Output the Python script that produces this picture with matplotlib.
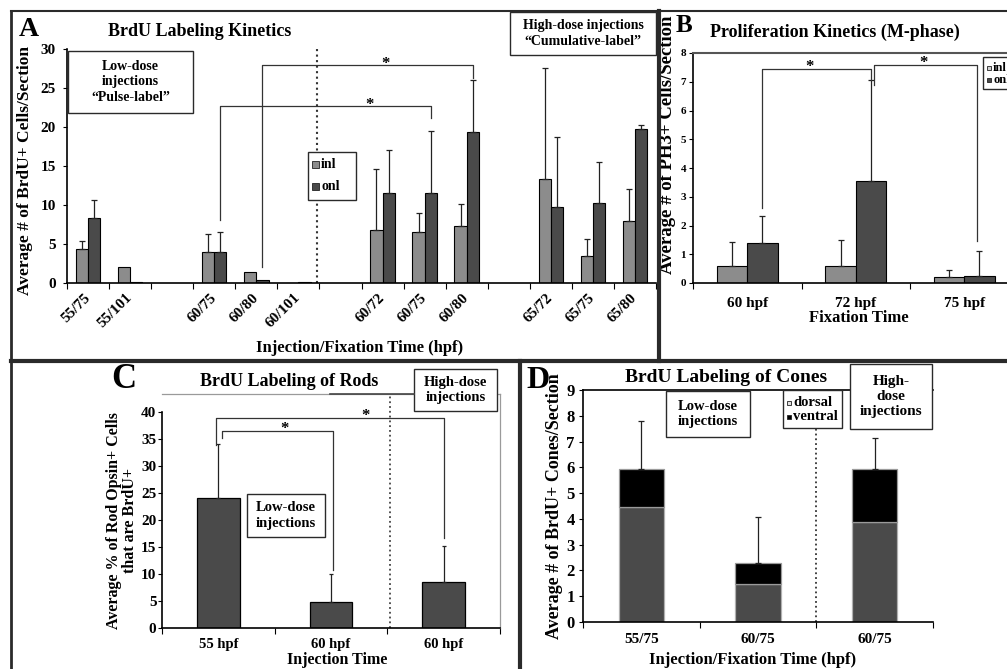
import numpy as np
import matplotlib
matplotlib.use("Agg")
import matplotlib.pyplot as plt
from matplotlib.patches import Rectangle

W, H = 1007, 669

# panel A: BrdU labeling kinetics (blank slots separate the groups)
a_labels = ['55/75', '55/101', '', '60/75', '60/80', '60/101', '',
            '60/72', '60/75', '60/80', '', '65/72', '65/75', '65/80']
a_inl = [4.3, 2.0, None, 4.0, 1.4, 0.0, None, 6.8, 6.5, 7.3, None, 13.3, 3.4, 8.0]
a_inl_err = [1.1, None, None, 2.3, None, None, None, 7.8, 2.5, 2.8, None, 14.3, 2.3, 4.1]
a_onl = [8.3, 0.15, None, 4.0, 0.4, 0.15, None, 11.5, 11.6, 19.3, None, 9.7, 10.3, 19.7]
a_onl_err = [2.3, None, None, 2.5, None, None, None, 5.6, 7.9, 6.7, None, 9.0, 5.2, 0.6]

# panel B: PH3+ cells
b_labels = ['60 hpf', '72 hpf', '75 hpf']
b_inl = [0.6, 0.6, 0.2]
b_inl_err = [0.82, 0.9, 0.25]
b_onl = [1.4, 3.55, 0.23]
b_onl_err = [0.93, 3.52, 0.9]

# panel C: rods
c_labels = ['55 hpf', '60 hpf', '60 hpf']
c_rods = [24.0, 4.8, 8.5]
c_rods_err = [10.1, 5.1, 6.7]

# panel D: cones
d_labels = ['55/75', '60/75', '60/75']
d_dorsal = [4.48, 1.47, 3.87]
d_ventral = [1.45, 0.82, 2.06]
d_err = [1.87, 1.8, 1.2]

# significance brackets: (x left, y left, x right, y right, y top, x star)
a_brackets = [(4.645, 2.1, 9.645, 26.3, 27.9, 7.56),
              (3.645, 8.1, 8.645, 21.1, 22.7, 7.18)]
b_brackets = [(0.64, 2.6, 1.64, 7.05, 7.45, 1.07),
              (1.67, 6.9, 2.62, 1.45, 7.6, 2.12)]
c_brackets = [(0.48, 33.9, 2.5, 16.7, 38.9, 1.81),
              (0.53, 35.2, 1.52, 10.7, 36.5, 1.09)]

INL = '#8c8c8c'
ONL = '#4a4a4a'

plt.rcParams['font.family'] = ['Liberation Serif', 'DejaVu Serif']
plt.rcParams['font.weight'] = 'bold'
plt.rcParams['axes.labelweight'] = 'bold'
plt.rcParams['axes.linewidth'] = 1.2

fig = plt.figure(figsize=(W / 100, H / 100), dpi=100)


def px_axes(x0, y0, x1, y1):
    return fig.add_axes([x0 / W, 1 - y1 / H, (x1 - x0) / W, (y1 - y0) / H])


def arr(v):
    return np.array([np.nan if x is None else x for x in v], float)


def upper_err(ax, x, y, e, cap=2.5):
    x, y, e = np.asarray(x, float), arr(y), arr(e)
    ok = ~np.isnan(e)
    ax.errorbar(x[ok], y[ok], yerr=[np.zeros(ok.sum()), e[ok]], fmt='none',
                ecolor='#222222', elinewidth=0.9, capsize=cap, capthick=0.9)


def bracket(ax, b, size=12):
    xl, yl, xr, yr, yt, xs = b
    ax.plot([xl, xl, xr, xr], [yl, yt, yt, yr], color='#333333', lw=0.9)
    ax.annotate('*', (xs, yt), xytext=(0, 1), textcoords='offset points',
                ha='center', va='center', fontsize=size)


def cat_axis(ax, labels, size, pad, **kw):
    n = len(labels)
    ax.set_xlim(0, n)
    ax.set_xticks(np.arange(n + 1))
    ax.set_xticklabels([])
    ax.set_xticks(np.arange(n) + 0.5, minor=True)
    ax.set_xticklabels(labels, minor=True, fontsize=size, **kw)
    ax.tick_params(axis='x', which='minor', length=0, pad=pad)
    ax.tick_params(axis='x', which='major', length=4, direction='out')
    ax.tick_params(axis='y', length=3, direction='out')


# ---- A
ax = px_axes(67, 49, 656, 283)
xa = np.arange(len(a_labels)) + 0.5
wa = 0.29
ax.bar(xa - wa / 2, arr(a_inl), wa, color=INL, edgecolor='black', lw=0.8)
ax.bar(xa + wa / 2, arr(a_onl), wa, color=ONL, edgecolor='black', lw=0.8)
upper_err(ax, xa - wa / 2, a_inl, a_inl_err)
upper_err(ax, xa + wa / 2, a_onl, a_onl_err)
ax.set_ylim(0, 30)
ax.set_yticks(range(0, 31, 5))
cat_axis(ax, a_labels, 11, 9, rotation=45, ha='right', va='center',
         rotation_mode='anchor')
ax.tick_params(axis='y', labelsize=11, pad=5)
ax.axvline(5.95, color='#333333', ls=':', lw=1.5)
for b in a_brackets:
    bracket(ax, b)
for s in ['top', 'right']:
    ax.spines[s].set_visible(False)
ax.set_ylabel('Average # of BrdU+ Cells/Section', fontsize=12.5)
ax.yaxis.set_label_coords(-0.057, 0.48)

# ---- B
bx = px_axes(693, 53, 1018.5, 283)
xb = np.arange(len(b_labels)) + 0.5
wb = 0.28
bx.bar(xb - wb / 2, b_inl, wb, color=INL, edgecolor='black', lw=0.8)
bx.bar(xb + wb / 2, b_onl, wb, color=ONL, edgecolor='black', lw=0.8)
upper_err(bx, xb - wb / 2, b_inl, b_inl_err)
upper_err(bx, xb + wb / 2, b_onl, b_onl_err)
bx.set_ylim(0, 8)
bx.set_yticks(range(0, 9))
cat_axis(bx, b_labels, 11, 10)
bx.tick_params(axis='y', labelsize=8, pad=2)
for b in b_brackets:
    bracket(bx, b)
bx.spines['right'].set_visible(False)
bx.spines['top'].set_color('#555555')
bx.spines['top'].set_linewidth(1.5)
bx.set_ylabel('Average # of PH3+ Cells/Section', fontsize=13.5)
bx.yaxis.set_label_coords(-0.052, 0.6)

# ---- C
cx = px_axes(162, 394, 500, 628)
xc = np.arange(len(c_labels)) + 0.5
cx.bar(xc, c_rods, 0.38, color=ONL, edgecolor='black', lw=0.9)
upper_err(cx, xc, c_rods, c_rods_err, cap=1.5)
cx.set_ylim(0, 43.3)
cx.set_yticks(range(0, 41, 5))
cat_axis(cx, c_labels, 10.5, 7)
cx.tick_params(axis='y', labelsize=11, pad=1)
cx.spines['left'].set_bounds(0, 40)
for s in ['top', 'right']:
    cx.spines[s].set_color('#9a9a9a')
    cx.spines[s].set_linewidth(0.9)
cx.axvline(2.02, color='#444444', ls=':', lw=1.3)
for b in c_brackets:
    bracket(cx, b)
cx.set_ylabel('Average % of Rod Opsin+ Cells\nthat are BrdU+', fontsize=11.5, linespacing=1.0)
cx.yaxis.set_label_coords(-0.07, 0.46)

# ---- D
dx = px_axes(583, 390, 933, 622)
xd = np.arange(len(d_labels)) + 0.5
dx.bar(xd, d_dorsal, 0.39, color=ONL, edgecolor='#b0b0b0', lw=0.9)
dx.bar(xd, d_ventral, 0.39, bottom=d_dorsal, color='black', edgecolor='#9a9a9a', lw=0.9)
upper_err(dx, xd, np.add(d_dorsal, d_ventral), d_err, cap=2)
dx.set_ylim(0, 9)
dx.set_yticks(range(0, 10))
cat_axis(dx, d_labels, 11, 8)
dx.tick_params(axis='y', labelsize=12, pad=3)
dx.spines['right'].set_visible(False)
dx.axvline(2.0, color='#333333', ls=':', lw=1.3)
dx.set_ylabel('Average # of BrdU+ Cones/Section', fontsize=13)
dx.yaxis.set_label_coords(-0.056, 0.5)

# ---- overlay in pixel coordinates: borders, titles, boxes, legends
ov = fig.add_axes([0, 0, 1, 1], zorder=10)
ov.set_xlim(0, W)
ov.set_ylim(H, 0)
ov.axis('off')
ov.patch.set_alpha(0)

K = '#2a2a2a'
ov.plot([11, W], [11, 11], color=K, lw=1.5)
ov.plot([11, 11], [11, H], color=K, lw=2)
ov.plot([659, 659], [11, 361], color=K, lw=3)
ov.plot([11, W], [361, 361], color=K, lw=3)
ov.plot([520, 520], [361, H], color=K, lw=3)
ov.plot([330, 414], [394, 394], color='#444444', lw=1.2)


def note(x0, y0, x1, y1, txt, size, ls=1.25):
    ov.add_patch(Rectangle((x0, y0), x1 - x0, y1 - y0, fc='white', ec=K, lw=1))
    ov.text((x0 + x1) / 2, (y0 + y1) / 2, txt, ha='center', va='center',
            fontsize=size, linespacing=ls)


note(68, 51, 193, 113, 'Low-dose\ninjections\n\u201cPulse-label\u201d', 10)
note(510, 12, 656, 55, 'High-dose injections\n\u201cCumulative-label\u201d', 10, 1.3)
note(247, 494, 325, 537, 'Low-dose\ninjections', 10.5, 1.3)
note(414, 369, 497, 411, 'High-dose\ninjections', 10.5, 1.2)
note(666, 391, 750, 437, 'Low-dose\ninjections', 10.5, 1.25)
note(850, 364, 932, 429, 'High-\ndose\ninjections', 11, 1.2)


def legend_box(x0, y0, x1, y1, items, size, sq):
    ov.add_patch(Rectangle((x0, y0), x1 - x0, y1 - y0, fc='white', ec=K, lw=1))
    for yy, col, lab in items:
        ov.add_patch(Rectangle((x0 + 4, yy - sq / 2), sq, sq, fc=col, ec='#222222', lw=0.6))
        ov.text(x0 + 6 + sq, yy, lab, ha='left', va='center', fontsize=size)


legend_box(308, 152, 356, 200, [(164, INL, 'inl'), (186, ONL, 'onl')], 10, 7)
legend_box(983, 57, 1030, 89, [(68, '#d0d0d0', 'inl'), (80, ONL, 'onl')], 9, 4)
legend_box(783, 390, 842, 428, [(403, '#e0e0e0', 'dorsal'), (417, 'black', 'ventral')], 10.5, 4)

# panel letters, titles, axis titles
ov.text(19, 30, 'A', fontsize=20, va='center', ha='left')
ov.text(200, 32, 'BrdU Labeling Kinetics', fontsize=13, ha='center', va='center')
ov.text(676, 25, 'B', fontsize=18, va='center', ha='left')
ov.text(835, 32, 'Proliferation Kinetics (M-phase)', fontsize=13, ha='center', va='center')
ov.text(111, 380, 'C', fontsize=25, va='center', ha='left')
ov.text(289, 382, 'BrdU Labeling of Rods', fontsize=13, ha='center', va='center')
ov.text(526, 380, 'D', fontsize=23, va='center', ha='left')
ov.text(726, 378, 'BrdU Labeling of Cones', fontsize=14, ha='center', va='center')

ov.text(360, 348, 'Injection/Fixation Time (hpf)', fontsize=12, ha='center', va='center')
ov.text(859, 318, 'Fixation Time', fontsize=12, ha='center', va='center')
ov.text(337, 660, 'Injection Time', fontsize=11.5, ha='center', va='center')
ov.text(753, 660, 'Injection/Fixation Time (hpf)', fontsize=12, ha='center', va='center')

fig.savefig('out.png', dpi=100)
